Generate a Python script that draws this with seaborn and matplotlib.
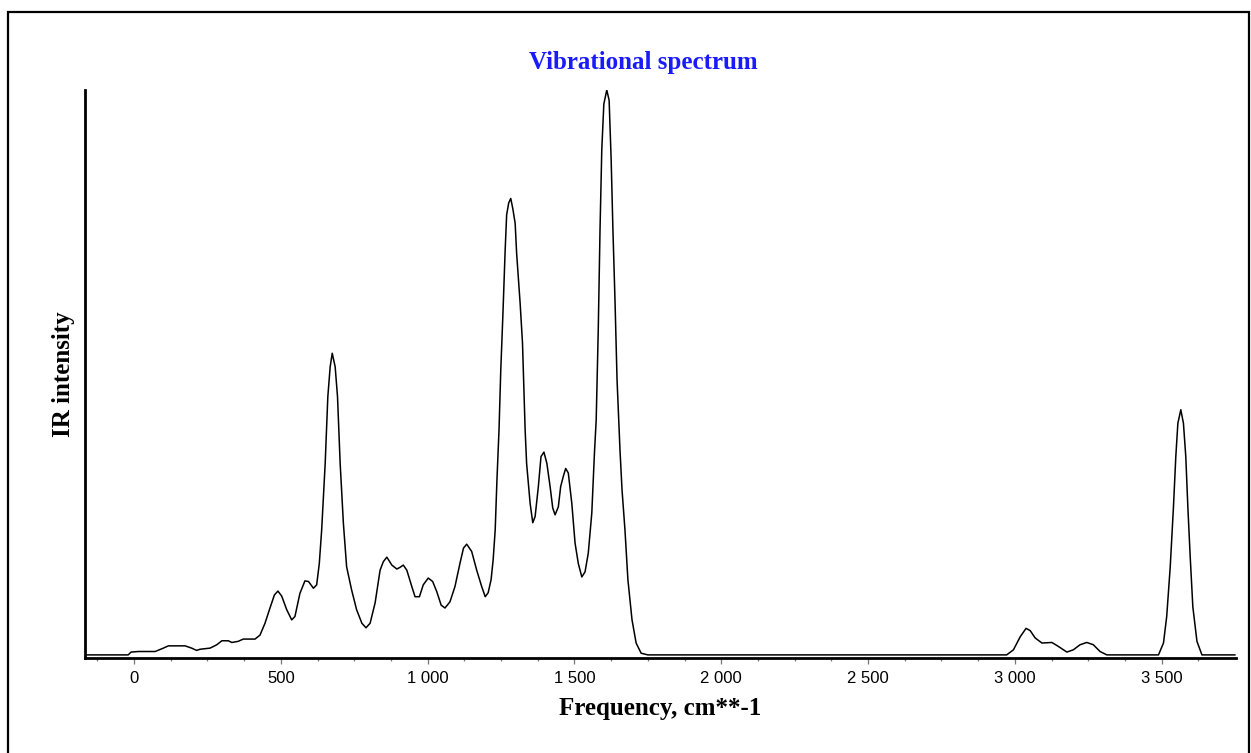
import matplotlib
matplotlib.use("Agg")
from matplotlib import pyplot as plt
from matplotlib.patches import Rectangle
import pandas as pd
import seaborn as sns

# traced spectrum (frequency in cm**-1, intensity normalised to the tallest band)
freq = [-167, -20, -10, 15, 72, 100, 117, 174, 196, 213, 225, 259, 282, 299, 321,
        333, 355, 372, 412, 429, 446, 463, 478, 490, 503, 520, 537, 548, 565, 582,
        594, 611, 622, 631, 639, 651, 660, 668, 675, 685, 693, 702, 713, 724, 741,
        758, 776, 790, 804, 821, 838, 849, 861, 878, 895, 906, 917, 929, 946, 957,
        972, 985, 1002, 1017, 1031, 1046, 1059, 1076, 1093, 1110, 1122, 1133, 1150,
        1167, 1184, 1196, 1206, 1216, 1223, 1230, 1236, 1243, 1249, 1256, 1264,
        1269, 1276, 1283, 1290, 1298, 1303, 1315, 1323, 1329, 1332, 1337, 1349,
        1358, 1366, 1377, 1386, 1396, 1406, 1417, 1426, 1434, 1445, 1453, 1462,
        1470, 1479, 1491, 1502, 1513, 1525, 1536, 1547, 1559, 1568, 1574, 1581,
        1587, 1593, 1600, 1610, 1618, 1625, 1631, 1638, 1645, 1655, 1662, 1672,
        1682, 1696, 1710, 1727, 1750, 2972, 2995, 3018, 3038, 3052, 3069, 3092,
        3126, 3148, 3177, 3199, 3222, 3245, 3267, 3290, 3313, 3489, 3506, 3517,
        3529, 3540, 3548, 3555, 3565, 3574, 3582, 3589, 3597, 3606, 3620, 3637, 3750]
intensity = [0.0, 0.0, 0.005, 0.006, 0.006, 0.012, 0.016, 0.016, 0.012, 0.008, 0.010,
             0.012, 0.018, 0.025, 0.025, 0.022, 0.024, 0.028, 0.028, 0.035, 0.056,
             0.083, 0.106, 0.113, 0.104, 0.080, 0.062, 0.068, 0.109, 0.131, 0.130,
             0.118, 0.124, 0.162, 0.221, 0.339, 0.457, 0.510, 0.534, 0.510, 0.457,
             0.339, 0.233, 0.156, 0.115, 0.080, 0.056, 0.048, 0.056, 0.092, 0.150,
             0.165, 0.173, 0.159, 0.152, 0.155, 0.159, 0.150, 0.121, 0.103, 0.103,
             0.124, 0.136, 0.130, 0.112, 0.088, 0.083, 0.094, 0.121, 0.162, 0.189,
             0.196, 0.183, 0.150, 0.121, 0.103, 0.110, 0.133, 0.168, 0.221, 0.310,
             0.398, 0.504, 0.599, 0.717, 0.779, 0.800, 0.808, 0.790, 0.764, 0.711,
             0.622, 0.552, 0.445, 0.398, 0.339, 0.268, 0.234, 0.245, 0.298, 0.351,
             0.359, 0.339, 0.298, 0.260, 0.248, 0.262, 0.298, 0.316, 0.330, 0.322,
             0.268, 0.198, 0.162, 0.138, 0.147, 0.180, 0.251, 0.357, 0.416, 0.575,
             0.752, 0.894, 0.975, 1.0, 0.982, 0.876, 0.752, 0.628, 0.487, 0.363,
             0.292, 0.221, 0.133, 0.062, 0.021, 0.003, 0.0, 0.0, 0.009, 0.032, 0.047,
             0.043, 0.030, 0.021, 0.022, 0.015, 0.005, 0.009, 0.018, 0.022, 0.018,
             0.006, 0.0, 0.0, 0.021, 0.068, 0.156, 0.262, 0.351, 0.410, 0.434, 0.410,
             0.351, 0.262, 0.174, 0.085, 0.024, 0.0, 0.0]

tick_vals = [0, 500, 1000, 1500, 2000, 2500, 3000, 3500]
tick_labels = ["0", "500", "1 000", "1 500", "2 000", "2 500", "3 000", "3 500"]
minor_vals = [-125 + 125 * i for i in range(31)]

df = pd.DataFrame({"freq": freq, "intensity": intensity})

sns.set_theme(style="white")
plt.rcParams["font.family"] = ["Liberation Sans", "DejaVu Sans"]
plt.rcParams["text.color"] = "black"
plt.rcParams["axes.labelcolor"] = "black"
plt.rcParams["xtick.labelcolor"] = "black"

fig = plt.figure(figsize=(12.51, 7.53), dpi=100)
ax = fig.add_axes([85 / 1251, 1 - 658 / 753, 1151 / 1251, 568 / 753])

sns.lineplot(data=df, x="freq", y="intensity", sort=False, color="black",
             linewidth=1.1, ax=ax)

ax.set_xlim(-167, 3753)
ax.set_ylim(-0.0055, 1.0)
ax.set_xticks(tick_vals)
ax.set_xticklabels(tick_labels)
ax.set_xticks(minor_vals, minor=True)
ax.set_yticks([])
ax.tick_params(axis="x", which="major", direction="out", length=4.5, width=0.9,
               color="#777777", labelcolor="black", labelsize=12, pad=5, bottom=True)
ax.tick_params(axis="x", which="minor", direction="out", length=2.5, width=0.9,
               color="#777777", bottom=True)

for side in ["top", "right"]:
    ax.spines[side].set_visible(False)
for side in ["left", "bottom"]:
    ax.spines[side].set_color("black")
    ax.spines[side].set_linewidth(2.0)

serif = ["Liberation Serif", "DejaVu Serif"]
ax.set_xlabel("Frequency, cm**-1", family=serif, fontweight="bold", fontsize=18,
              labelpad=8, color="black")
ax.set_ylabel("IR intensity", family=serif, fontweight="bold", fontsize=18,
              labelpad=7, color="black")
fig.text(643 / 1251, 1 - 63 / 753, "Vibrational spectrum", family=serif,
         fontweight="bold", fontsize=18, color="#1a1aff", ha="center", va="center")

# frame around the whole picture
fig.patches.append(Rectangle((8 / 1251, -0.02), 1241 / 1251, 1.02 - 12 / 753,
                             transform=fig.transFigure, fill=False,
                             edgecolor="black", linewidth=1.6))

fig.savefig("out.png", dpi=100, facecolor="white")
